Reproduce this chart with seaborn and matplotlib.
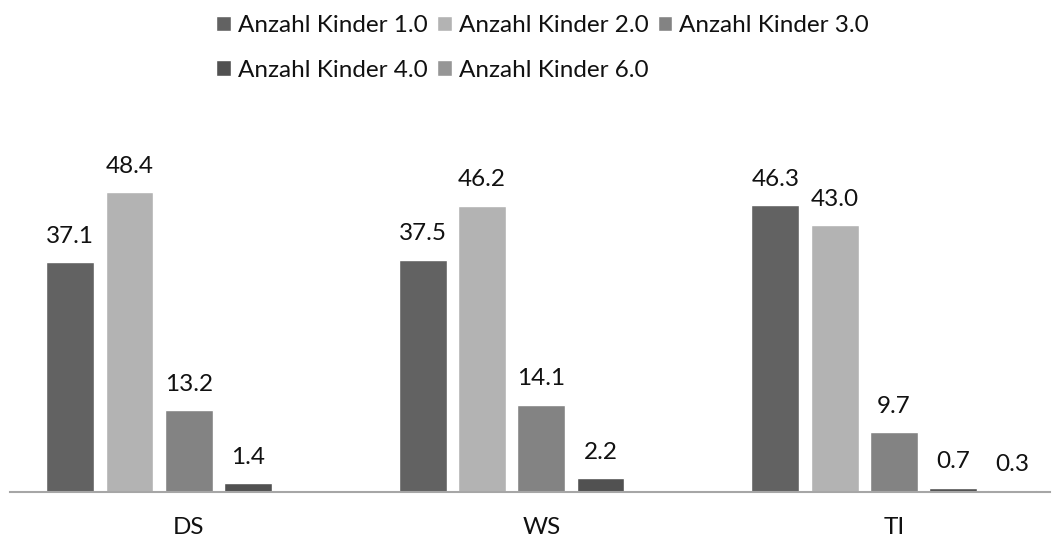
import matplotlib
matplotlib.use("Agg")
import matplotlib.pyplot as plt
import seaborn as sns
import pandas as pd
import numpy as np

categories = ["DS", "WS", "TI"]
series = ["Anzahl Kinder 1.0", "Anzahl Kinder 2.0", "Anzahl Kinder 3.0",
          "Anzahl Kinder 4.0", "Anzahl Kinder 6.0"]
v1 = [37.1, 37.5, 46.3]
v2 = [48.4, 46.2, 43.0]
v3 = [13.2, 14.1, 9.7]
v4 = [1.4, 2.2, 0.7]
v6 = [np.nan, np.nan, 0.3]
colors = ["#626262", "#b3b3b3", "#838383", "#515151", "#969696"]

rows = []
for s, vals in zip(series, [v1, v2, v3, v4, v6]):
    for c, v in zip(categories, vals):
        rows.append({"cat": c, "series": s, "value": v})
df = pd.DataFrame(rows)

sns.set_theme(style="white")
plt.rcParams['font.family'] = ['Lato', 'DejaVu Sans']
FS = 17.5

fig = plt.figure(figsize=(10.58, 5.38), dpi=100)
ax = fig.add_axes([10/1058, 1 - 492/538, 1040/1058, (492-130)/538])

sns.barplot(data=df, x="cat", y="value", hue="series", order=categories,
            hue_order=series, palette=colors, width=0.84, gap=0.19,
            saturation=1, ax=ax, legend=True, err_kws={'linewidth': 0})

ax.set_ylim(0, (492-130)/6.2)
ax.set_xlim(-0.507, 2.443)
for cont in ax.containers:
    labels = ["" if np.isnan(v) else f"{v:.1f}" for v in cont.datavalues]
    ax.bar_label(cont, labels=labels, padding=11, fontsize=FS, color="#111111")

ax.set_xlabel("")
ax.set_ylabel("")
ax.set_yticks([])
ax.tick_params(axis='x', length=0, pad=18, labelsize=FS, labelcolor="#111111")
for sp in ["top", "right", "left"]:
    ax.spines[sp].set_visible(False)
ax.spines["bottom"].set_color("#a6a6a6")
ax.spines["bottom"].set_linewidth(1.5)

handles, labels = ax.get_legend_handles_labels()
ax.get_legend().remove()
order = [0, 3, 1, 4, 2]
fig.legend([handles[i] for i in order], [labels[i] for i in order],
           loc="upper center", bbox_to_anchor=(0.513, 1.013), ncol=3,
           frameon=False, fontsize=FS, handlelength=0.6, handleheight=0.6,
           handletextpad=0.3, columnspacing=0.37, labelspacing=0.98,
           labelcolor="#111111")

fig.savefig("out.png", dpi=100)
